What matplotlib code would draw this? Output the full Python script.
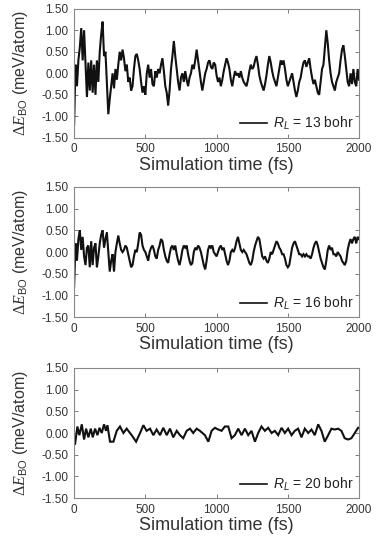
import numpy as np
import matplotlib
matplotlib.use("Agg")
import matplotlib.pyplot as plt

plt.rcParams['font.family'] = ['Liberation Sans', 'DejaVu Sans']
plt.rcParams['axes.unicode_minus'] = False
plt.rcParams['mathtext.fontset'] = 'custom'
plt.rcParams['mathtext.rm'] = 'Liberation Serif'
plt.rcParams['mathtext.it'] = 'Liberation Serif:italic'
plt.rcParams['mathtext.sf'] = 'Liberation Sans'
plt.rcParams['mathtext.bf'] = 'Liberation Sans:italic'   # used for the R_L legend symbol

# time grid of the traces (fs), read every 10 fs
time_13 = np.arange(0, 2001, 10)
time_16 = np.arange(0, 2001, 10)

# R_L = 13 bohr
de_13 = [
    -1.20, 0.20, -0.30, 0.30, 0.60, 1.05, 0.30, 1.00, 0.20, -0.55,
    0.25, -0.40, 0.30, -0.45, 0.20, -0.50, 0.30, -0.20, 0.50, 0.90,
    1.20, 0.40, 0.50, -0.20, -0.95, -0.60, -0.30, 0.00, -0.35, 0.10,
    -0.15, 0.20, 0.50, 0.30, 0.55, 0.35, 0.05, 0.20, -0.20, -0.10,
    -0.40, -0.30, 0.10, 0.40, 0.45, 0.30, 0.10, -0.20, -0.45, -0.30,
    -0.50, 0.00, 0.20, -0.10, 0.10, -0.25, -0.30, 0.05, -0.10, 0.10,
    0.00, 0.20, 0.35, 0.05, -0.30, -0.45, -0.75, -0.40, 0.10, 0.40,
    0.75, 0.40, 0.10, -0.20, -0.40, -0.10, 0.00, -0.20, 0.05, -0.15,
    -0.30, -0.10, 0.00, 0.20, 0.10, 0.30, 0.55, 0.30, 0.05, -0.20,
    -0.40, -0.20, 0.00, 0.10, 0.25, 0.30, 0.15, 0.10, 0.25, 0.20,
    -0.05, -0.20, -0.10, -0.30, -0.15, 0.05, 0.20, 0.35, 0.25, 0.10,
    -0.15, -0.30, -0.10, 0.05, -0.05, 0.00, -0.10, 0.05, -0.10, -0.20,
    -0.25, -0.30, -0.15, 0.05, 0.20, 0.10, 0.15, 0.30, 0.40, 0.20,
    -0.05, -0.20, -0.30, -0.40, -0.25, -0.05, 0.20, 0.40, 0.25, 0.05,
    -0.10, -0.20, -0.30, -0.10, 0.10, 0.30, 0.20, 0.30, 0.10, -0.15,
    -0.30, -0.20, -0.10, 0.00, -0.20, -0.40, -0.55, -0.40, -0.20, -0.10,
    0.10, 0.25, 0.30, 0.15, 0.25, 0.35, 0.10, -0.10, -0.25, -0.15,
    -0.30, -0.45, -0.50, -0.20, 0.10, 0.20, 0.60, 1.00, 0.70, 0.30,
    0.00, -0.20, -0.30, -0.40, -0.20, -0.10, 0.00, 0.30, 0.55, 0.65,
    0.40, 0.10, -0.20, -0.30, 0.00, -0.25, 0.10, -0.20, -0.30, 0.10,
    -0.15,
]

# R_L = 16 bohr
de_16 = [
    -0.80, 0.20, -0.20, 0.30, 0.50, 0.05, 0.35, -0.10, -0.30, 0.10,
    0.15, -0.35, 0.25, -0.30, 0.10, 0.20, -0.35, -0.10, 0.20, 0.40,
    0.50, 0.10, 0.30, 0.45, 0.00, -0.45, -0.20, -0.05, -0.45, 0.00,
    0.20, 0.38, 0.20, 0.05, 0.00, 0.05, 0.15, 0.10, -0.05, -0.20,
    -0.35, -0.30, -0.10, 0.05, 0.00, 0.20, 0.45, 0.40, 0.15, 0.05,
    0.00, -0.10, -0.20, 0.00, 0.10, 0.15, 0.05, -0.10, -0.15, 0.05,
    0.15, 0.30, 0.25, 0.05, -0.10, -0.20, -0.25, -0.05, 0.10, 0.15,
    0.05, 0.15, -0.05, -0.20, -0.30, -0.15, 0.05, 0.15, 0.10, 0.15,
    -0.05, -0.20, -0.30, -0.25, 0.00, 0.10, 0.05, 0.15, 0.10, 0.00,
    -0.15, -0.30, -0.40, -0.20, 0.05, 0.15, 0.10, 0.15, 0.00, -0.05,
    -0.10, 0.00, 0.10, 0.15, 0.05, 0.10, -0.05, -0.20, -0.30, -0.20,
    0.00, 0.05, 0.00, 0.10, 0.25, 0.35, 0.20, 0.05, 0.00, 0.05,
    0.00, -0.05, -0.15, -0.25, -0.30, -0.20, 0.00, 0.15, 0.25, 0.35,
    0.30, 0.10, -0.10, -0.15, -0.10, -0.20, -0.25, -0.15, 0.00, -0.05,
    0.05, 0.15, 0.25, 0.20, 0.10, 0.05, -0.05, -0.05, -0.15, -0.30,
    -0.35, -0.30, -0.10, 0.10, 0.20, 0.25, 0.15, 0.05, -0.05, -0.05,
    -0.10, -0.05, -0.10, -0.05, -0.10, -0.10, -0.15, -0.05, 0.10, 0.20,
    0.25, 0.15, 0.00, -0.15, -0.25, -0.35, -0.40, -0.20, 0.05, 0.15,
    0.05, 0.10, -0.05, -0.05, -0.10, 0.00, -0.05, -0.10, -0.20, -0.25,
    -0.30, -0.20, 0.05, 0.20, 0.30, 0.20, 0.30, 0.35, 0.20, 0.35,
    0.30,
]

# R_L = 20 bohr, read at the turning points
time_20 = [
    0, 7, 23, 37, 54, 70, 84, 100, 117, 131, 147, 164, 178, 194, 210,
    224, 234, 252, 276, 299, 322, 346, 369, 404, 435, 463, 486, 509,
    533, 556, 579, 603, 626, 650, 673, 696, 720, 743, 766, 790, 813,
    836, 860, 883, 918, 942, 965, 988, 1012, 1035, 1058, 1082, 1105,
    1128, 1152, 1175, 1199, 1222, 1245, 1269, 1292, 1315, 1339, 1362,
    1386, 1409, 1432, 1456, 1479, 1502, 1526, 1549, 1572, 1596, 1619,
    1643, 1666, 1689, 1713, 1736, 1759, 1783, 1806, 1829, 1853, 1876,
    1899, 1923, 1946, 1970, 1993, 2000,
]
de_20 = [
    -0.25, -0.25, 0.15, -0.05, 0.20, -0.15, 0.10, -0.10, 0.10, -0.10,
    0.10, -0.05, 0.12, 0.00, 0.20, 0.05, 0.18, -0.20, -0.20, 0.05,
    0.15, 0.00, 0.10, -0.05, -0.20, 0.00, 0.18, 0.05, 0.10, -0.05,
    0.08, -0.05, 0.12, -0.05, 0.10, -0.10, 0.05, -0.05, -0.12, 0.05,
    0.10, 0.00, 0.10, 0.05, -0.05, -0.20, 0.05, 0.12, 0.08, 0.05,
    0.15, 0.15, -0.12, -0.05, 0.10, -0.05, 0.10, -0.05, 0.05, -0.20,
    0.00, 0.15, 0.05, 0.12, 0.00, 0.05, -0.05, 0.12, 0.00, 0.10,
    -0.05, 0.05, 0.10, -0.10, 0.10, 0.00, 0.08, -0.05, 0.20, 0.05,
    -0.20, -0.05, 0.10, 0.08, 0.10, 0.05, -0.12, -0.15, -0.12, 0.00,
    0.12, 0.12,
]

panels = [
    (time_13, de_13, '13'),
    (time_16, de_16, '16'),
    (time_20, de_20, '20'),
]
# axes boxes in figure fractions [left, bottom, width, height]
boxes = [
    [0.194, 0.747, 0.746, 0.237],
    [0.194, 0.418, 0.746, 0.239],
    [0.194, 0.086, 0.746, 0.239],
]

yticks = [-1.5, -1.0, -0.5, 0.0, 0.5, 1.0, 1.5]
xticks = [0, 500, 1000, 1500, 2000]

fig = plt.figure(figsize=(3.82, 5.45), dpi=100)

for (t, de, rl), box in zip(panels, boxes):
    ax = fig.add_axes(box)
    ax.plot(t, de, color='#111111', lw=1.5, solid_joinstyle='miter',
            label=r'$\mathbf{R}_{\mathbf{L}}$ = %s bohr' % rl)
    ax.set_xlim(0, 2000)
    ax.set_ylim(-1.5, 1.5)
    ax.set_xticks(xticks)
    ax.set_yticks(yticks)
    ax.set_yticklabels(['%.2f' % v for v in yticks])
    ax.tick_params(direction='in', length=3, width=0.6, top=True, right=True,
                   labelsize=8.5, colors='#666666', labelcolor='#333333', pad=4)
    for sp in ax.spines.values():
        sp.set_color('#888888')
        sp.set_linewidth(0.8)
    ax.set_xlabel('Simulation time (fs)', fontsize=13, color='#333333', labelpad=1)
    ax.set_ylabel(r'$\Delta \mathit{E}_{\mathsf{BO}}$ (meV/atom)', fontsize=11.5,
                  color='#333333', labelpad=8)
    leg = ax.legend(loc='lower right', frameon=False, fontsize=10, handlelength=2.0,
                    handletextpad=0.4, borderaxespad=0.0, labelcolor='#222222')
    for h in leg.get_lines():
        h.set_linewidth(1.2)

fig.savefig('out.png', dpi=100)
